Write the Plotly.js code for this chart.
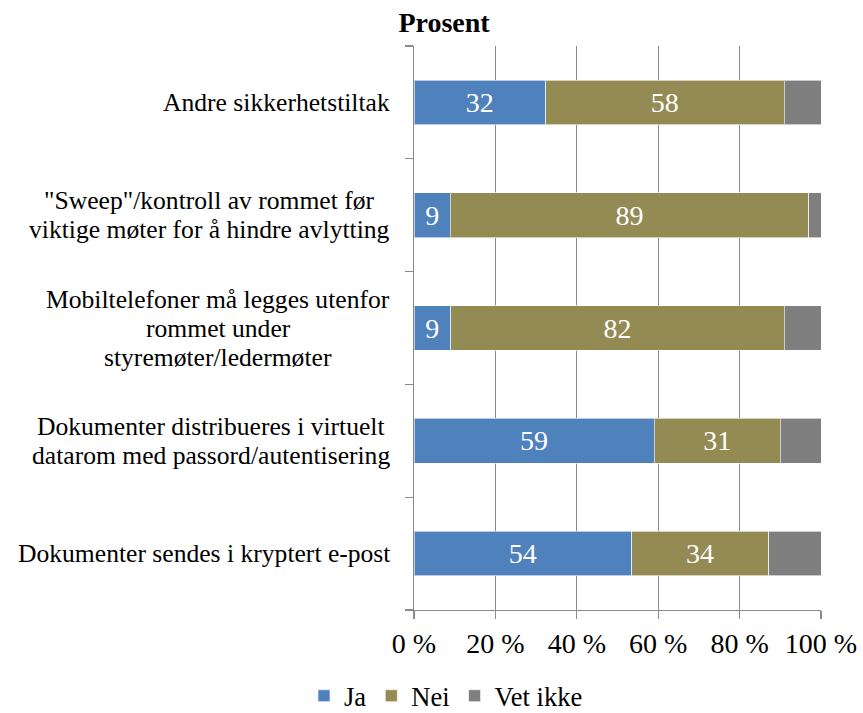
<!DOCTYPE html>
<html>
<head>
<meta charset="utf-8">
<script src="https://cdn.plot.ly/plotly-3.0.1.min.js"></script>
<style>
  html, body { margin: 0; padding: 0; background: #fff; }
  #chart { width: 863px; height: 713px; }
</style>
</head>
<body>
<div id="chart"></div>
<script>
// Sikkerhetstiltak ved styre- og ledermøter (prosent), fra nederst til øverst
const categories = [
  ["Dokumenter sendes i kryptert e-post"],
  ["Dokumenter distribueres i virtuelt", "datarom med passord/autentisering"],
  ["Mobiltelefoner må legges utenfor", "rommet under", "styremøter/ledermøter"],
  ["\"Sweep\"/kontroll av rommet før", "viktige møter for å hindre avlytting"],
  ["Andre sikkerhetstiltak"]
];
const ja      = [54, 59, 9, 9, 32];
const nei     = [34, 31, 82, 89, 58];
const vetIkke = [13, 10, 9, 3, 9];

const seriesNames  = ["Ja", "Nei", "Vet ikke"];
const seriesColors = ["#4F81BD", "#948A54", "#7F7F7F"];

const xTickVals = [0, 20, 40, 60, 80, 100];
const xTickText = ["0 %", "20 %", "40 %", "60 %", "80 %", "100 %"];

const FONT = "'Liberation Serif', 'Times New Roman', serif";
const W = 863, H = 713;
const M = { l: 414, r: 42, t: 46, b: 103 };
const plotW = W - M.l - M.r;

const LABEL_SIZE = 25.6;
const LINE_STEP = 29;      // px between label lines
const LABEL_RIGHT = 390;   // right edge of the label block, px from left

const catIdx = categories.map((_, i) => i);

function barTrace(values, name, color, labelled) {
  return {
    type: "bar",
    orientation: "h",
    name: name,
    y: catIdx,
    x: values,
    text: labelled ? values.map(String) : values.map(() => ""),
    textposition: labelled ? "inside" : "none",
    insidetextanchor: "middle",
    textangle: 0,
    constraintext: "none",
    insidetextfont: { family: FONT, size: 28, color: "#ffffff" },
    marker: { color: color, line: { color: "rgba(255,255,255,0.6)", width: 1 } },
    hoverinfo: "name+x"
  };
}

const data = [
  barTrace(ja, seriesNames[0], seriesColors[0], true),
  barTrace(nei, seriesNames[1], seriesColors[1], true),
  barTrace(vetIkke, seriesNames[2], seriesColors[2], false)
];

// Category labels: each line centred on the widest line of its block
const ctx = document.createElement("canvas").getContext("2d");
ctx.font = LABEL_SIZE + "px " + FONT;
const catLabels = [];
categories.forEach((lines, i) => {
  const maxW = Math.max(...lines.map(t => ctx.measureText(t).width));
  const cx = (LABEL_RIGHT - maxW / 2 - M.l) / plotW;
  lines.forEach((t, k) => {
    catLabels.push({
      xref: "paper", yref: "y",
      x: cx, y: i,
      xanchor: "center", yanchor: "middle",
      yshift: ((lines.length - 1) / 2 - k) * LINE_STEP,
      text: t,
      showarrow: false,
      font: { family: FONT, size: LABEL_SIZE, color: "#000000" }
    });
  });
});

const layout = {
  width: W, height: H,
  margin: { l: M.l, r: M.r, t: M.t, b: M.b, pad: 0 },
  paper_bgcolor: "#ffffff",
  plot_bgcolor: "#ffffff",
  font: { family: FONT, color: "#000000" },
  barmode: "stack",
  barnorm: "percent",
  bargap: 0.604,
  showlegend: true,
  title: {
    text: "<b>Prosent</b>",
    font: { family: FONT, size: 28, color: "#000000" },
    xref: "container", yref: "container",
    x: 444 / W, xanchor: "center",
    y: 1 - 22 / H, yanchor: "middle"
  },
  xaxis: {
    range: [0, 100],
    tickmode: "array",
    tickvals: xTickVals,
    ticktext: xTickText,
    tickfont: { family: FONT, size: 28, color: "#000000" },
    showgrid: true,
    gridcolor: "#8a8a8a",
    gridwidth: 1.3,
    zeroline: false,
    showline: true,
    linecolor: "#8a8a8a",
    linewidth: 1.3,
    ticks: "outside",
    ticklen: 8,
    tickwidth: 1.3,
    tickcolor: "#8a8a8a",
    fixedrange: true
  },
  yaxis: {
    type: "linear",
    range: [-0.5, categories.length - 0.5],
    tickmode: "array",
    tickvals: [-0.5, 0.5, 1.5, 2.5, 3.5, 4.5],
    showticklabels: false,
    showgrid: false,
    zeroline: false,
    showline: true,
    linecolor: "#8a8a8a",
    linewidth: 1.3,
    ticks: "outside",
    ticklen: 8,
    tickwidth: 1.3,
    tickcolor: "#8a8a8a",
    fixedrange: true
  },
  legend: {
    orientation: "h",
    xref: "container", yref: "container",
    x: 446 / W, xanchor: "center",
    y: 1 - 696 / H, yanchor: "middle",
    font: { family: FONT, size: 26.5, color: "#000000" },
    traceorder: "normal",
    itemclick: false
  },
  annotations: catLabels
};

Plotly.newPlot("chart", data, layout, { displayModeBar: false, staticPlot: true });
</script>
</body>
</html>
